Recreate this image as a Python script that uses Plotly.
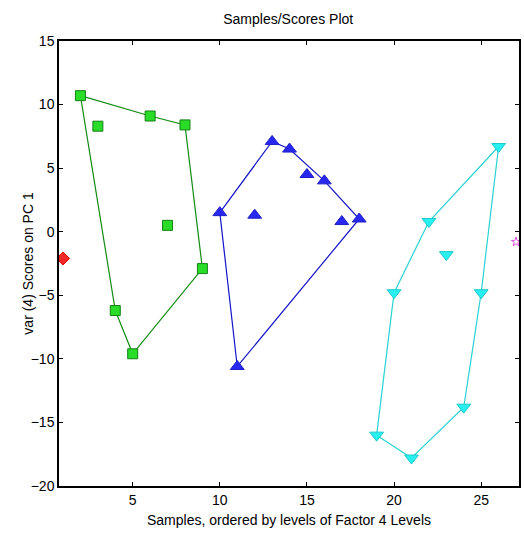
import plotly.graph_objects as go

# Data
red_x = [1]
red_y = [-2.1]

green_x = [2, 3, 4, 5, 6, 7, 8, 9]
green_y = [10.7, 8.3, -6.2, -9.6, 9.1, 0.5, 8.4, -2.9]
green_hull = [2, 6, 8, 9, 5, 4, 2]

blue_x = [10, 11, 12, 13, 14, 15, 16, 17, 18]
blue_y = [1.5, -10.6, 1.3, 7.1, 6.5, 4.5, 4.0, 0.8, 1.0]
blue_hull = [10, 13, 14, 16, 18, 11, 10]

cyan_x = [19, 20, 21, 22, 23, 24, 25, 26]
cyan_y = [-16.0, -4.8, -17.8, 0.8, -1.8, -13.8, -4.8, 6.7]
cyan_hull = [19, 21, 24, 25, 26, 22, 20, 19]

mag_x = [27]
mag_y = [-0.8]

x_ticks = [5, 10, 15, 20, 25]
y_ticks = [-20, -15, -10, -5, 0, 5, 10, 15]

FONT = "Liberation Sans, Arial"

def hull_xy(xs, ys, order):
    m = dict(zip(xs, ys))
    return order, [m[i] for i in order]

fig = go.Figure()

for xs, ys, order, col in [
    (green_x, green_y, green_hull, "rgb(20,140,20)"),
    (blue_x, blue_y, blue_hull, "rgb(20,20,200)"),
    (cyan_x, cyan_y, cyan_hull, "rgb(40,210,210)"),
]:
    hx, hy = hull_xy(xs, ys, order)
    fig.add_trace(go.Scatter(x=hx, y=hy, mode="lines",
                             line=dict(color=col, width=1.2), hoverinfo="skip"))

fig.add_trace(go.Scatter(x=red_x, y=red_y, mode="markers",
                         marker=dict(symbol="diamond", size=10, color="rgb(240,40,40)",
                                     line=dict(color="rgb(220,0,0)", width=1))))
fig.add_trace(go.Scatter(x=green_x, y=green_y, mode="markers",
                         marker=dict(symbol="square", size=10, color="rgb(40,220,40)",
                                     line=dict(color="rgb(20,130,20)", width=1))))
fig.add_trace(go.Scatter(x=blue_x, y=blue_y, mode="markers",
                         marker=dict(symbol="triangle-up", size=12, color="rgb(40,40,240)",
                                     line=dict(color="rgb(30,30,200)", width=1))))
fig.add_trace(go.Scatter(x=cyan_x, y=cyan_y, mode="markers",
                         marker=dict(symbol="triangle-down", size=12, color="rgb(40,240,240)",
                                     line=dict(color="rgb(30,200,200)", width=1))))
fig.add_trace(go.Scatter(x=mag_x, y=mag_y, mode="markers",
                         marker=dict(symbol="star-open", size=7, color="rgb(220,80,220)",
                                     line=dict(width=1))))

axis_common = dict(showline=True, linecolor="black", linewidth=1.5, mirror="allticks",
                   ticks="inside", ticklen=4, tickcolor="black", showgrid=False,
                   zeroline=False, tickfont=dict(family=FONT, size=14, color="black"))

fig.update_layout(
    width=524, height=534,
    margin=dict(l=59, r=3, t=41, b=48),
    paper_bgcolor="white", plot_bgcolor="white",
    showlegend=False,
    title=dict(text="Samples/Scores Plot", x=0.55, xanchor="center", y=1 - 19 / 534, yanchor="middle",
               font=dict(family=FONT, size=14, color="black")),
    xaxis=dict(range=[0.77, 27.17], tickvals=x_ticks,
               title=dict(text="Samples, ordered by levels of Factor 4 Levels", standoff=9,
                          font=dict(family=FONT, size=14, color="black")),
               **axis_common),
    yaxis=dict(range=[-20, 15], tickvals=y_ticks, **axis_common),
    annotations=[dict(text="var (4) Scores on PC 1", xref="paper", yref="paper",
                      x=(27 - 59) / 462, y=0.5, xanchor="center", yanchor="middle",
                      textangle=-90, showarrow=False,
                      font=dict(family=FONT, size=14, color="black"))],
)

fig.write_html("out.html")
